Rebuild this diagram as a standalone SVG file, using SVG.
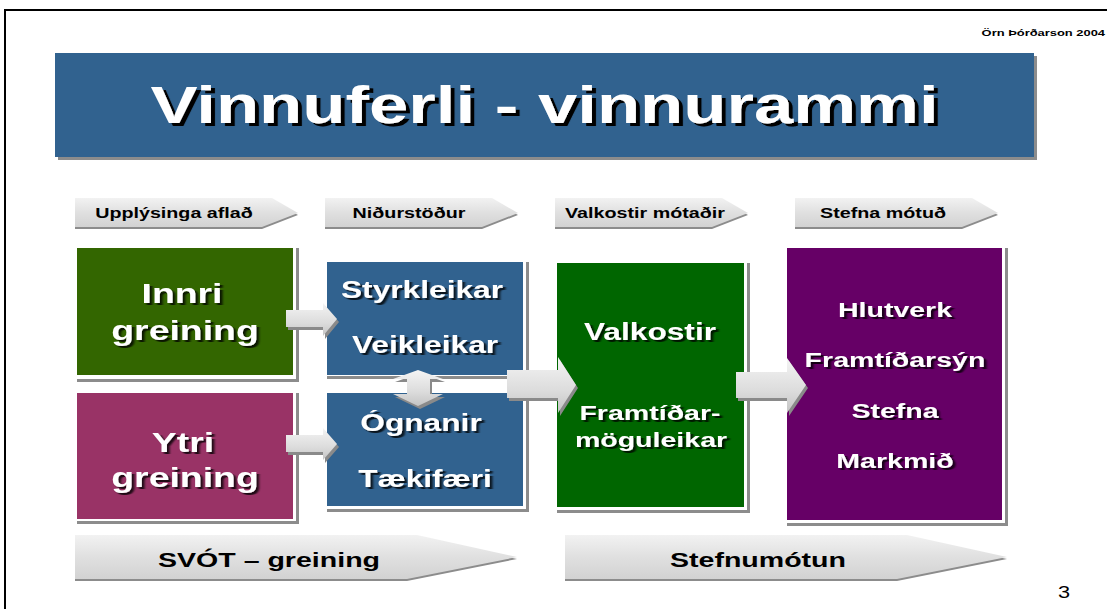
<svg xmlns="http://www.w3.org/2000/svg" width="1107" height="609" viewBox="0 0 1107 609">
<defs>
<linearGradient id="marble" x1="0" y1="0" x2="0" y2="1">
<stop offset="0" stop-color="#f2f2f2"/><stop offset="0.5" stop-color="#e0e0e0"/><stop offset="1" stop-color="#d2d2d2"/>
</linearGradient>
<linearGradient id="arr" x1="0" y1="0" x2="0" y2="1">
<stop offset="0" stop-color="#f4f4f4"/><stop offset="0.6" stop-color="#dcdcdc"/><stop offset="1" stop-color="#c4c4c4"/>
</linearGradient>
<filter id="tsh" x="-10%" y="-20%" width="130%" height="150%">
<feDropShadow dx="2" dy="2" stdDeviation="0.6" flood-color="#000" flood-opacity="0.8"/>
</filter>
<filter id="tsh3" x="-10%" y="-20%" width="130%" height="150%">
<feDropShadow dx="3" dy="3" stdDeviation="0" flood-color="#000" flood-opacity="1"/>
</filter>
<style>
text{font-family:"Liberation Sans",Arial,sans-serif;font-weight:bold;text-anchor:middle}
.frame{fill:#fff}
.fshadow{fill:#8c8c8c}
.chev{fill:url(#marble)}
.chevs{fill:#8c8c8c}
.hdr{font-size:14.5px;fill:#000}
.big{font-size:21px;fill:#000}
.w{fill:#fff;filter:url(#tsh)}
.a{fill:url(#arr)}
.as{fill:#8a8a8a}
</style>
</defs>
<rect width="1107" height="609" fill="#fff"/>
<path d="M5 609 V10 H1107" fill="none" stroke="#000" stroke-width="2"/>
<text transform="translate(1105,36) scale(1.36,1)" style="font-size:9.5px;text-anchor:end">Örn Þórðarson  2004</text>
<text transform="translate(1064,598) scale(1.36,1)" style="font-size:16px;font-weight:normal">3</text>

<g id="title">
<rect x="58" y="56" width="979" height="104" class="fshadow"/>
<rect x="55" y="53" width="979" height="104" fill="#31628F"/>
<text transform="translate(544.5,123) scale(1.36,1)" style="font-size:52px;filter:url(#tsh3)" fill="#fff">Vinnuferli - vinnurammi</text>
</g>

<g id="hdr1">
<polygon class="chevs" points="75,200 272,200 298,215 262,229 75,229"/>
<polygon class="chev" points="75,198 272,198 298,213 262,227 75,227"/>
<text class="hdr" transform="translate(174,218) scale(1.36,1)">Upplýsinga aflað</text>
</g>
<g id="hdr2">
<polygon class="chevs" points="325,200 492,200 518,215 482,229 325,229"/>
<polygon class="chev" points="325,198 492,198 518,213 482,227 325,227"/>
<text class="hdr" transform="translate(409,218) scale(1.36,1)">Niðurstöður</text>
</g>
<g id="hdr3">
<polygon class="chevs" points="555,200 722,200 748,215 712,229 555,229"/>
<polygon class="chev" points="555,198 722,198 748,213 712,227 555,227"/>
<text class="hdr" transform="translate(645,218) scale(1.36,1)">Valkostir mótaðir</text>
</g>
<g id="hdr4">
<polygon class="chevs" points="795,200 972,200 998,215 962,229 795,229"/>
<polygon class="chev" points="795,198 972,198 998,213 962,227 795,227"/>
<text class="hdr" transform="translate(883,218) scale(1.36,1)">Stefna mótuð</text>
</g>

<g id="innri">
<rect class="fshadow" x="77" y="248" width="222" height="134"/>
<rect class="frame" x="74" y="245" width="222" height="134"/>
<rect x="77" y="248" width="216" height="127" fill="#336600"/>
<text class="w" style="font-size:27.5px" transform="translate(182,303) scale(1.36,1)">Innri</text>
<text class="w" style="font-size:27.5px" transform="translate(185,340) scale(1.36,1)">greining</text>
</g>

<g id="ytri">
<rect class="fshadow" x="77" y="393" width="222" height="131"/>
<rect class="frame" x="74" y="390" width="222" height="131"/>
<rect x="77" y="393" width="216" height="126" fill="#993366"/>
<text class="w" style="font-size:27.5px" transform="translate(183,452) scale(1.36,1)">Ytri</text>
<text class="w" style="font-size:27.5px" transform="translate(185,487) scale(1.36,1)">greining</text>
</g>

<g id="styrk">
<rect class="fshadow" x="327" y="262" width="202" height="117"/>
<rect class="frame" x="324" y="259" width="202" height="117"/>
<rect x="327" y="262" width="196" height="113" fill="#31628F"/>
<text class="w" style="font-size:23.3px" transform="translate(422,298) scale(1.36,1)">Styrkleikar</text>
<text class="w" style="font-size:23.3px" transform="translate(425,353) scale(1.36,1)">Veikleikar</text>
</g>

<g id="ogn">
<rect class="fshadow" x="327" y="393" width="202" height="119"/>
<rect class="frame" x="324" y="390" width="202" height="119"/>
<rect x="327" y="393" width="196" height="113" fill="#31628F"/>
<text class="w" style="font-size:23.3px" transform="translate(421,431) scale(1.36,1)">Ógnanir</text>
<text class="w" style="font-size:23.3px" transform="translate(425,487) scale(1.36,1)">Tækifæri</text>
</g>

<g id="valk">
<rect class="fshadow" x="557" y="263" width="193" height="250"/>
<rect class="frame" x="554" y="260" width="193" height="250"/>
<rect x="557" y="263" width="187" height="244" fill="#006600"/>
<text class="w" style="font-size:23.3px" transform="translate(650,340) scale(1.36,1)">Valkostir</text>
<text class="w" style="font-size:21px" transform="translate(650,420) scale(1.36,1)">Framtíðar-</text>
<text class="w" style="font-size:21px" transform="translate(651,447) scale(1.36,1)">möguleikar</text>
</g>

<g id="stefna">
<rect class="fshadow" x="787" y="248" width="221" height="278"/>
<rect class="frame" x="784" y="245" width="221" height="278"/>
<rect x="787" y="248" width="215" height="272" fill="#660066"/>
<text class="w" style="font-size:21px" transform="translate(895,317) scale(1.36,1)">Hlutverk</text>
<text class="w" style="font-size:21px" transform="translate(895,367) scale(1.36,1)">Framtíðarsýn</text>
<text class="w" style="font-size:21px" transform="translate(895,418) scale(1.36,1)">Stefna</text>
<text class="w" style="font-size:21px" transform="translate(895,468) scale(1.36,1)">Markmið</text>
</g>

<g id="connectors">
<polygon class="as" points="288,313 325,313 325,306 339,322 325,339 325,330 288,330"/>
<polygon class="a" points="286,310 323,310 323,303 337,319 323,336 323,327 286,327"/>
<polygon class="as" points="288,438 325,438 325,431 339,447 325,463 325,455 288,455"/>
<polygon class="a" points="286,435 323,435 323,428 337,444 323,460 323,452 286,452"/>
<polygon class="as" points="420,373 445,382 432,382 432,397 445,397 420,409 395,397 409,397 409,382 395,382"/>
<polygon class="a" points="418,370 443,379 430,379 430,394 443,394 418,406 393,394 407,394 407,379 393,379"/>
<polygon class="as" points="509,373 560,373 560,360 578,388 560,416 560,401 509,401"/>
<polygon class="a" points="507,370 558,370 558,357 576,385 558,413 558,398 507,398"/>
<polygon class="as" points="738,375 789,375 789,361 808,388 789,416 789,401 738,401"/>
<polygon class="a" points="736,372 787,372 787,358 806,385 787,413 787,398 736,398"/>
</g>

<g id="svot">
<polygon class="chevs" points="75,537 417,537 517,559 407,581 75,581"/>
<polygon class="chev" points="75,535 417,535 517,557 407,579 75,579"/>
<text class="big" transform="translate(269,567) scale(1.36,1)">SVÓT – greining</text>
</g>
<g id="stefnumotun">
<polygon class="chevs" points="565,537 907,537 1007,559 897,581 565,581"/>
<polygon class="chev" points="565,535 907,535 1007,557 897,579 565,579"/>
<text class="big" transform="translate(758,567) scale(1.36,1)">Stefnumótun</text>
</g>
</svg>
